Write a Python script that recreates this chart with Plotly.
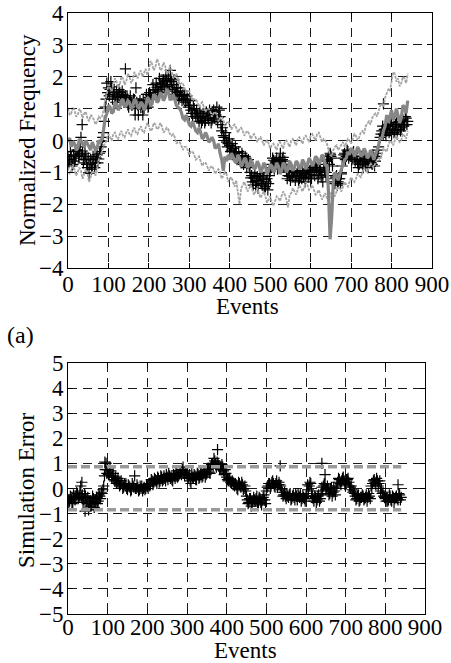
import plotly.graph_objects as go

W, H = 451, 663

# ---------------- data ----------------
events = list(range(0, 841, 4))       # event index, main samples
events_b = list(range(2, 839, 4))     # event index, in-between samples

model_mid = [
    -0.05, 0.08, -0.2, -0.02, -0.1, -0.3, -0.25, 0.05, 0.0, -0.1,
    -0.2, 0.0, -0.1, -0.25, -0.3, -0.05, -0.15, -0.3, -0.25, 0.0,
    -0.05, 0.05, 0.35, 0.7, 0.85, 1.1, 1.05, 0.85, 0.9, 1.2,
    1.15, 0.95, 1.05, 1.25, 1.3, 1.05, 1.1, 1.25, 1.2, 1.0,
    1.05, 1.3, 1.25, 1.05, 1.0, 1.2, 1.15, 0.95, 1.05, 1.35,
    1.3, 1.1, 1.15, 1.45, 1.4, 1.2, 1.25, 1.5, 1.45, 1.25,
    1.35, 1.6, 1.55, 1.3, 1.3, 1.45, 1.3, 1.1, 1.05, 1.0,
    0.9, 0.7, 0.65, 0.8, 0.65, 0.5, 0.45, 0.6, 0.45, 0.3,
    0.25, 0.4, 0.25, 0.05, 0.1, 0.25, 0.15, -0.05, 0.0, 0.1,
    0.0, -0.25, -0.2, -0.1, -0.4, -0.6, -0.95, -0.5, -0.65, -0.45,
    -0.6,
    -0.4, -0.5, -0.65, -0.7, -0.45, -0.55, -0.8, -0.75, -0.55, -0.6,
    -0.85, -0.8, -0.6, -0.7, -0.9, -0.85, -0.65, -0.75, -1.0, -0.9,
    -0.7, -0.8, -1.05, -0.95, -0.75, -0.8, -1.0, -0.9, -0.7, -0.8,
    -1.05, -0.95, -0.7, -0.75, -1.0, -0.9, -0.65, -0.75, -0.95, -0.85,
    -0.65, -0.7, -0.9, -0.85, -0.6, -0.7, -0.9, -0.75, -0.55, -0.65,
    -0.8, -0.7, -0.5, -0.55, -0.75, -0.65, -0.45, -0.5, -0.8, -0.75,
    -1.6, -3.1, -2.4, -1.3, -1.0, -1.1, -1.25, -1.05, -0.85, -0.75,
    -0.6, -0.55, -0.35, -0.45, -0.25, -0.3, -0.5, -0.4, -0.2, -0.3,
    -0.5, -0.45, -0.25, -0.35, -0.55, -0.5, -0.3, -0.4, -0.6, -0.45,
    -0.25, -0.15, 0.1, 0.05, 0.3, 0.45, 0.8, 0.55, 0.75, 0.95,
    0.65, 0.75, 1.0, 0.8, 0.55, 0.7, 1.1, 1.05, 0.85, 1.25,
]

model_upper = [
    1.0, 0.8, 0.85, 1.05, 0.95, 0.75, 0.8, 1.0, 0.9, 0.7,
    0.85, 0.9, 0.7, 0.6, 0.8, 0.75, 0.65, 0.5, 0.6, 0.75,
    0.7, 0.75, 0.95, 1.3, 1.45, 1.75, 1.65, 1.55, 1.75, 1.95,
    1.85, 1.65, 1.75, 2.0, 1.95, 1.75, 1.85, 2.1, 2.0, 1.8,
    1.9, 2.15, 2.05, 1.95, 2.1, 2.2, 2.0, 2.1, 2.25, 2.05,
    2.2, 2.5, 2.4, 2.2, 2.3, 2.55, 2.45, 2.2, 2.25, 2.45,
    2.35, 2.1, 2.15, 2.35, 2.2, 1.95, 2.0, 2.1, 1.95, 1.75,
    1.8, 1.8, 1.65, 1.5, 1.55, 1.55, 1.4, 1.25, 1.3, 1.3,
    1.2, 1.05, 1.15, 1.2, 1.05, 0.9, 1.0, 1.0, 0.9, 0.75,
    0.85, 0.9, 0.8, 0.6, 0.7, 0.75, 0.65, 0.45, 0.55, 0.6,
    0.5, 0.35, 0.45, 0.5, 0.4, 0.25, 0.35, 0.4, 0.3, 0.15,
    0.25, 0.3, 0.2, 0.05, 0.15, 0.2, 0.1, -0.05, 0.05, 0.1,
    0.0, -0.15, -0.05, 0.0, -0.1, -0.25, -0.15, -0.1, -0.2, -0.3,
    -0.1, -0.05, -0.15, -0.25, -0.05, 0.0, -0.1, -0.2, 0.0, 0.05,
    -0.05, -0.15, 0.05, 0.1, 0.0, -0.1, 0.1, 0.15, 0.05, -0.05,
    0.15, 0.2, 0.1, 0.0, 0.2, 0.25, 0.1, -0.05, 0.05, 0.0,
    -0.1, -0.3, -0.45, -0.5, -0.3, -0.2, -0.15, -0.3, -0.2, -0.1,
    -0.05, -0.2, -0.1, 0.05, 0.0, -0.1, 0.05, 0.2, 0.15, 0.0,
    0.1, 0.25, 0.3, 0.2, 0.45, 0.55, 0.6, 0.5, 0.7, 0.8,
    0.85, 0.75, 0.95, 1.1, 1.15, 1.05, 1.35, 1.5, 1.6, 1.55,
    1.9, 2.15, 2.1, 1.85, 1.95, 1.7, 1.8, 2.0, 1.95, 1.8,
    2.1,
]

model_lower = [
    -0.85, -1.05, -0.95, -0.75, -0.9, -1.1, -1.0, -0.85, -0.95, -1.2,
    -1.05, -0.9, -1.0, -1.3, -1.15, -0.95, -1.0, -1.1, -0.9, -0.6,
    -0.45, -0.35, -0.15, -0.1, 0.05, 0.2, 0.1, 0.0, 0.2, 0.25,
    0.1, 0.05, 0.2, 0.3, 0.15, 0.1, 0.25, 0.35, 0.2, 0.15,
    0.3, 0.4, 0.25, 0.2, 0.35, 0.45, 0.3, 0.25, 0.4, 0.55,
    0.45, 0.3, 0.35, 0.55, 0.5, 0.35, 0.4, 0.55, 0.45, 0.25,
    0.3, 0.4, 0.35, 0.2, 0.15, 0.2, 0.1, -0.1, -0.05, -0.05,
    -0.15, -0.3, -0.2, -0.2, -0.3, -0.45, -0.35, -0.35, -0.45, -0.6,
    -0.55, -0.5, -0.65, -0.8, -0.7, -0.7, -0.8, -0.95, -0.85, -0.8,
    -0.9, -1.05, -0.95, -0.9, -1.0, -1.2, -1.1, -1.0, -1.05, -1.3,
    -1.2, -1.15, -1.3, -1.45, -1.25, -1.7, -2.0, -1.5, -1.4, -1.3,
    -1.45, -1.6, -1.5, -1.4, -1.55, -1.7, -1.6, -1.5, -1.65, -1.8,
    -1.7, -1.6, -1.75, -1.95, -1.85, -1.75, -1.95, -2.05, -1.9, -1.75,
    -1.8, -1.9, -1.75, -1.6, -1.7, -1.85, -2.1, -1.7, -1.65, -1.5,
    -1.6, -1.7, -1.55, -1.4, -1.5, -1.6, -1.45, -1.3, -1.4, -1.55,
    -1.5, -1.4, -1.55, -1.7, -1.65, -1.55, -1.7, -1.85, -1.75, -1.65,
    -1.8, -1.9, -1.75, -1.6, -1.65, -1.75, -1.6, -1.45, -1.5, -1.6,
    -1.45, -1.3, -1.4, -1.45, -1.3, -1.15, -1.25, -1.3, -1.2, -1.05,
    -1.1, -1.15, -1.0, -0.85, -0.95, -1.0, -0.85, -0.7, -0.8, -0.85,
    -0.7, -0.6, -0.55, -0.6, -0.45, -0.25, -0.3, -0.35, -0.15, 0.0,
    -0.05, -0.15, 0.0, 0.15, 0.05, -0.05, 0.0, 0.2, 0.15, 0.05,
    0.3,
]

measured = [
    -0.5, -0.6, -0.5, -0.75, -0.65, -0.48,
    -0.3, -0.4, 0.1, -0.33, -0.6, -0.5, -0.85,
    -1.03, -0.6, -0.8, -0.6, -0.7, -0.45, -0.58, -0.35,
    -0.03, 0.25, 1.05, 1.8,
    1.65, 1.6, 1.68, 1.45,
    1.37, 1.55, 1.4, 1.5, 1.37, 1.45, 1.25,
    1.25, 1.12, 1.25, 1.2, 1.15, 1.28, 1.65, 1.12, 1.15, 1.03,
    1.05, 1.0, 1.2, 1.2, 1.35,
    1.42, 1.35, 1.58, 1.6, 1.67, 1.5, 1.75, 1.7, 1.9, 1.85,
    1.88, 2.0, 1.75, 1.85, 1.75, 1.55, 1.65, 1.65, 1.4, 1.4,
    1.43, 1.45, 1.25, 1.3, 1.1,
    0.95, 0.75, 1.0, 0.75, 0.8, 0.6, 0.75, 0.63,
    0.75, 0.62, 0.8, 0.63, 0.8, 0.65, 0.8,
    0.9, 1.05, 0.73, 0.75, 0.3,
    0.15, 0.0, -0.05, -0.1,
    -0.15, -0.3, -0.25, -0.4, -0.37, -0.53,
    -0.5, -0.7, -0.47, -0.63, -0.55, -0.7,
    -0.8, -1.17, -1.3, -1.18, -1.4, -1.13,
    -1.25, -1.1, -1.4, -1.22, -1.45, -1.2, -1.35,
    -0.98, -0.75, -0.62, -0.65, -0.55, -0.8, -0.65, -0.75, -0.53, -0.65,
    -0.95, -1.1, -1.12, -1.0,
    -1.13, -0.95, -1.12, -0.95, -1.2, -1.1, -0.95, -1.05, -1.18, -0.9, -1.08, -1.0,
    -0.85, -0.8, -0.75,
    -0.85, -1.08, -0.95, -1.0, -0.75, -1.0,
    -0.65, -0.5, -0.4, -0.55,
    -1.2, -1.35, -1.1, -1.3, -1.2, -1.05,
    -0.55, -0.4, -0.5, -0.35, -0.45, -0.5, -0.4, -0.5,
    -0.6, -0.7, -0.75,
    -0.65, -0.75, -0.55, -0.8, -0.6, -0.7, -0.5, -0.75, -0.55, -0.65,
    -0.4, -0.2, 0.1, 0.3, 0.2, 0.35,
    0.3, 0.5, 0.35, 0.2,
    0.45, 0.3, 0.55, 0.35, 0.6, 0.4, 0.65, 0.5, 0.7, 0.6,
]

measured_b = [
    -0.7, -0.35, -0.8, -0.45, -0.55, -0.3,
    -0.5, -0.2, -0.45, -0.7, -0.4, -0.75, -0.55,
    -0.75, -0.9, -0.5, -0.85, -0.55, -0.7, -0.4, -0.2,
    0.1, 0.6, 1.3, 1.5,
    1.4, 1.85, 1.3, 1.6,
    1.2, 1.35, 1.6, 1.2, 1.55, 1.3, 1.4,
    1.35, 1.05, 1.4, 1.1, 1.3, 1.0, 1.2, 0.8, 1.25, 1.15,
    1.3, 1.1, 1.45, 1.05, 1.5,
    1.3, 1.75, 1.45, 1.8, 1.55, 1.95, 1.6, 1.8, 1.65, 2.05,
    1.7, 1.6, 1.95, 1.6, 1.9, 1.45, 1.5, 1.3, 1.55, 1.25,
    1.3, 1.2, 1.4, 1.05, 1.25,
    0.85, 1.1, 0.85, 0.95, 0.7, 0.9, 0.55, 0.85,
    0.55, 0.9, 0.7, 0.95, 0.55, 0.9, 0.7,
    0.8, 0.6, 0.95, 0.5, 0.4,
    0.1, 0.25, -0.2, 0.05,
    -0.35, -0.1, -0.45, -0.2, -0.6, -0.35,
    -0.65, -0.4, -0.75, -0.5, -0.85, -0.6,
    -1.0, -1.1, -1.4, -1.05, -1.3, -1.5,
    -1.05, -1.35, -1.15, -1.5, -1.3, -1.55, -1.1,
    -0.85, -0.55, -0.9, -0.7, -0.9, -0.6, -0.85, -0.6, -0.8, -0.75,
    -1.2, -0.95, -1.25, -1.15,
    -1.0, -1.25, -1.05, -1.3, -0.95, -1.2, -1.15, -1.3, -1.0, -1.15, -0.95, -1.2,
    -0.95, -1.1, -0.9,
    -1.2, -0.9, -1.15, -1.3, -0.95, -1.1,
    -0.6, -0.75, -0.5, -0.8,
    -1.3, -1.15, -1.4, -1.2, -1.35, -0.8,
    -0.45, -0.6, -0.3, -0.55, -0.4, -0.6, -0.35, -0.65,
    -0.5, -0.85, -0.6,
    -0.5, -0.85, -0.65, -0.55, -0.85, -0.6, -0.7, -0.45, -0.8, -0.5,
    -0.3, 0.0, 0.2, 0.45, 0.35, 0.15,
    0.45, 0.25, 0.55, 0.35,
    0.25, 0.5, 0.2, 0.55, 0.3, 0.5, 0.45, 0.75, 0.5,
]
measured_extra_x = [35, 142, 166, 185, 253, 360, 525, 649, 780]
measured_extra_y = [0.5, 2.25, 0.8, 0.8, 2.2, 0.95, -0.4, -0.45, 1.15]

sim_error = [
    -0.45, -0.5, -0.35, -0.55, -0.4, -0.3,
    -0.2, -0.35, 0.1, -0.25, -0.45, -0.3, -0.6,
    -0.85, -0.5, -0.65, -0.4, -0.55, -0.35, -0.5, -0.3,
    -0.15, -0.05, 0.5, 1.0,
    0.75, 0.6, 0.7, 0.5,
    0.35, 0.45, 0.25, 0.3, 0.15, 0.2, 0.05,
    0.1, 0.0, 0.15, 0.05, -0.05, 0.1, 0.5, 0.0, 0.05, -0.05,
    0.0, -0.1, 0.05, 0.0, 0.1,
    0.2, 0.15, 0.3, 0.25, 0.35, 0.2, 0.4, 0.3, 0.45, 0.35,
    0.4, 0.55, 0.35, 0.5, 0.45, 0.3, 0.5, 0.6, 0.45, 0.55,
    0.65, 0.75, 0.6, 0.7, 0.55,
    0.45, 0.3, 0.6, 0.4, 0.5, 0.35, 0.55, 0.45,
    0.6, 0.5, 0.7, 0.55, 0.75, 0.65, 0.85,
    1.0, 1.2, 0.95, 1.05, 0.9,
    0.85, 0.95, 0.7, 0.75,
    0.45, 0.3, 0.35, 0.2, 0.25, 0.1,
    0.15, -0.05, 0.2, 0.05, 0.15, 0.0,
    -0.1, -0.45, -0.55, -0.4, -0.6, -0.35,
    -0.5, -0.3, -0.55, -0.4, -0.65, -0.35, -0.45,
    -0.1, 0.1, 0.2, 0.15, 0.3, 0.1, 0.2, 0.05, 0.25, 0.1,
    -0.15, -0.25, -0.3, -0.2,
    -0.35, -0.2, -0.4, -0.25, -0.45, -0.3, -0.2, -0.35, -0.5, -0.25, -0.4, -0.3,
    0.15, 0.1, 0.2,
    -0.3, -0.5, -0.35, -0.45, -0.25, -0.4,
    0.05, 0.1, 0.15, 0.0,
    -0.05, -0.2, 0.05, -0.15, -0.1, 0.0,
    0.25, 0.35, 0.15, 0.4, 0.3, 0.2, 0.35, 0.25,
    0.05, -0.05, -0.1,
    -0.3, -0.4, -0.25, -0.45, -0.35, -0.3, -0.4, -0.25, -0.35, -0.3,
    0.1, 0.2, 0.35, 0.15, 0.3, 0.2,
    -0.1, -0.2, -0.3, -0.4,
    -0.35, -0.45, -0.3, -0.5, -0.35, -0.4, -0.3, -0.45, -0.25, -0.35,
]

sim_error_b = [
    -0.55, -0.3, -0.6, -0.25, -0.45, -0.15,
    -0.4, -0.1, -0.35, -0.55, -0.2, -0.5, -0.35,
    -0.6, -0.7, -0.3, -0.75, -0.45, -0.6, -0.25, -0.4,
    -0.2, 0.1, 0.75, 0.6,
    0.55, 0.85, 0.45, 0.6,
    0.3, 0.2, 0.4, 0.1, 0.3, 0.0, 0.2,
    0.2, -0.05, 0.1, -0.1, 0.2, 0.05, 0.0, 0.15, -0.1, 0.1,
    0.1, 0.0, -0.05, 0.15, 0.0,
    0.1, 0.35, 0.15, 0.4, 0.3, 0.45, 0.25, 0.5, 0.3, 0.5,
    0.3, 0.45, 0.6, 0.4, 0.35, 0.55, 0.4, 0.7, 0.5, 0.6,
    0.55, 0.85, 0.5, 0.6, 0.4,
    0.55, 0.2, 0.45, 0.55, 0.35, 0.6, 0.4, 0.65,
    0.45, 0.65, 0.45, 0.6, 0.8, 0.6, 0.95,
    0.9, 1.1, 0.85, 0.95, 0.8,
    0.75, 0.85, 0.55, 0.6,
    0.35, 0.4, 0.25, 0.3, 0.15, 0.2,
    0.0, 0.25, 0.1, 0.25, -0.05, 0.1,
    -0.3, -0.6, -0.4, -0.7, -0.5, -0.45,
    -0.4, -0.6, -0.35, -0.55, -0.45, -0.25, -0.6,
    0.05, 0.2, 0.0, 0.25, 0.2, 0.05, 0.3, 0.15, 0.15, -0.05,
    -0.3, -0.15, -0.4, -0.3,
    -0.25, -0.45, -0.3, -0.35, -0.2, -0.45, -0.3, -0.25, -0.4, -0.35, -0.5, -0.2,
    -0.05, 0.25, -0.1,
    -0.4, -0.3, -0.55, -0.3, -0.5, -0.2,
    -0.1, 0.2, -0.05, 0.1,
    -0.25, 0.0, -0.3, 0.05, -0.25, 0.1,
    0.4, 0.2, 0.3, 0.45, 0.15, 0.35, 0.4, 0.1,
    0.1, -0.15, -0.2,
    -0.45, -0.3, -0.5, -0.35, -0.25, -0.45, -0.35, -0.5, -0.2, -0.4,
    0.0, 0.3, 0.25, 0.4, 0.1, 0.3,
    0.0, -0.15, -0.35, -0.5,
    -0.5, -0.25, -0.45, -0.3, -0.55, -0.35, -0.4, -0.2, -0.45,
]
sim_error_extra_x = [35, 43, 93, 377, 535, 640, 648, 832]
sim_error_extra_y = [0.25, -0.9, 1.05, 1.55, 0.9, 1.0, 0.55, 0.15]

bound_x = [0, 840]
bound_hi = [0.87, 0.87]
bound_lo = [-0.85, -0.85]

x_ticks = [0, 100, 200, 300, 400, 500, 600, 700, 800, 900]
y1_ticks = [-4, -3, -2, -1, 0, 1, 2, 3, 4]
y2_ticks = [-5, -4, -3, -2, -1, 0, 1, 2, 3, 4, 5]

for arr in (model_mid, model_upper, model_lower, measured, sim_error):
    assert len(arr) == len(events), len(arr)
for arr in (measured_b, sim_error_b):
    assert len(arr) == len(events_b), len(arr)

# ---------------- figure ----------------
FONT = "Liberation Serif, Times New Roman, serif"
FS = 23
fig = go.Figure()

mk = dict(symbol="cross-thin", size=8, line=dict(color="black", width=1.2))

# top panel
for xs, ys in ((events, measured), (events_b, measured_b),
               (measured_extra_x, measured_extra_y)):
    fig.add_trace(go.Scatter(x=xs, y=ys, mode="markers", marker=mk,
                             xaxis="x", yaxis="y", showlegend=False))
for ys in (model_upper, model_lower):
    fig.add_trace(go.Scatter(x=events, y=ys, mode="lines",
                             line=dict(color="#a4a4a4", width=1.8, dash="3px,1px"),
                             xaxis="x", yaxis="y", showlegend=False))
fig.add_trace(go.Scatter(x=events, y=model_mid, mode="lines",
                         line=dict(color="#868686", width=3.2),
                         xaxis="x", yaxis="y", showlegend=False))

# bottom panel
for xs, ys in ((events, sim_error), (events_b, sim_error_b),
               (sim_error_extra_x, sim_error_extra_y)):
    fig.add_trace(go.Scatter(x=xs, y=ys, mode="markers", marker=mk,
                             xaxis="x2", yaxis="y2", showlegend=False))
for yy in (bound_hi, bound_lo):
    fig.add_trace(go.Scatter(x=bound_x, y=yy, mode="lines",
                             line=dict(color="#9a9a9a", width=3.5, dash="9px,4px"),
                             xaxis="x2", yaxis="y2", showlegend=False))

ax_common = dict(
    showline=True, linecolor="black", linewidth=1, mirror="ticks",
    ticks="inside", ticklen=5, tickcolor="black",
    showgrid=True, gridcolor="#1a1a1a", gridwidth=1, griddash="9px,6px",
    zeroline=False, automargin=False,
    tickfont=dict(family=FONT, size=FS, color="black"),
)
y_extra = dict(ticklabelstandoff=-1)

def title_ann(text, x, y, angle=0):
    return dict(text=text, xref="paper", yref="paper", x=x / W, y=1 - y / H,
                xanchor="center", yanchor="middle", textangle=angle,
                showarrow=False, font=dict(family=FONT, size=FS, color="black"))

fig.update_layout(
    width=W, height=H,
    margin=dict(l=0, r=0, t=0, b=0),
    paper_bgcolor="white", plot_bgcolor="white",
    font=dict(family=FONT, size=FS, color="black"),
    xaxis=dict(ax_common, ticklabelstandoff=-5, domain=[68 / W, 432 / W], range=[0, 900],
               tickvals=x_ticks, anchor="y"),
    yaxis=dict(ax_common, **y_extra, domain=[1 - 268 / H, 1 - 13 / H], range=[-4, 4],
               tickvals=y1_ticks, anchor="x"),
    xaxis2=dict(ax_common, ticklabelstandoff=-8, domain=[68 / W, 425 / W], range=[0, 900],
                tickvals=x_ticks, anchor="y2"),
    yaxis2=dict(ax_common, **y_extra, domain=[1 - 614 / H, 1 - 363 / H], range=[-5, 5],
                tickvals=y2_ticks, anchor="x2"),
    annotations=[
        title_ann("Events", 247, 306),
        title_ann("Normalized Frequency", 27, 140, -90),
        title_ann("Events", 245, 650),
        title_ann("Simulation Error", 26, 490, -90),
        dict(text="(a)", xref="paper", yref="paper",
             x=5 / W, y=1 - 335 / H, xanchor="left", yanchor="middle",
             showarrow=False, font=dict(family=FONT, size=24, color="black")),
    ],
)

fig.write_html("out.html")
